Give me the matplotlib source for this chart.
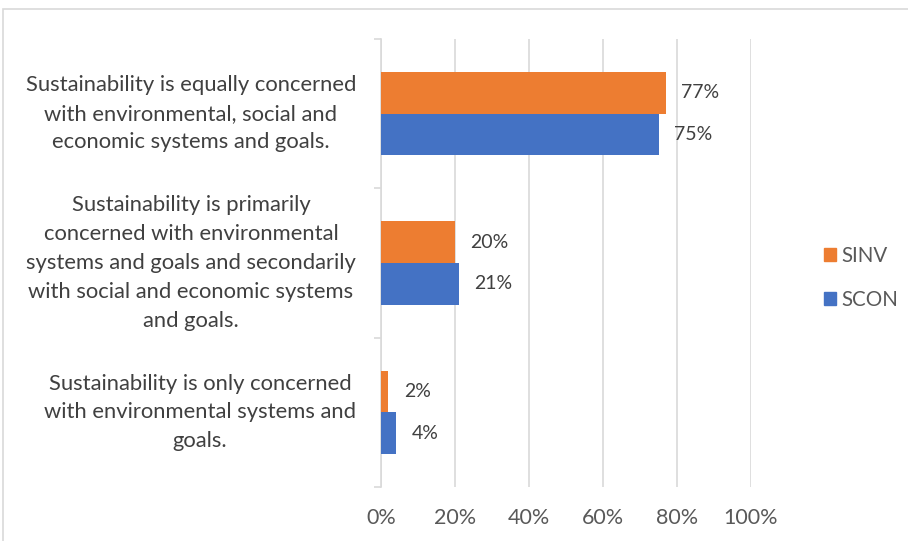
import matplotlib.pyplot as plt
import matplotlib.patches as mpatches
import numpy as np

categories = [
    "Sustainability is only concerned\nwith environmental systems and\ngoals.",
    "Sustainability is primarily\nconcerned with environmental\nsystems and goals and secondarily\nwith social and economic systems\nand goals.",
    "Sustainability is equally concerned\nwith environmental, social and\neconomic systems and goals.",
]
sinv = [2, 20, 77]
scon = [4, 21, 75]
xticks = [0, 20, 40, 60, 80, 100]

ORANGE = "#ED7D31"
BLUE = "#4472C4"
GRID = "#D9D9D9"
TEXT = "#404040"
TICK_TEXT = "#595959"

plt.rcParams["font.family"] = ["Lato", "DejaVu Sans"]

fig = plt.figure(figsize=(9.08, 5.41), dpi=100)
W, H = 908, 541

# outer chart border (only the left and top edges fall inside the image)
fig.patches.append(mpatches.Rectangle((3 / W, -0.1), 1.2, 1.1 - 9 / H, transform=fig.transFigure,
                                      fill=False, edgecolor=GRID, linewidth=1.2))

ax = fig.add_axes([381 / W, 1 - 487 / H, 370 / W, 448 / H])

y = np.arange(len(categories))
h = 0.28
ax.barh(y + h / 2, sinv, height=h, color=ORANGE, label="SINV", zorder=3)
ax.barh(y - h / 2, scon, height=h, color=BLUE, label="SCON", zorder=3)

for yi, v in zip(y, sinv):
    ax.text(v + 4.2, yi + h / 2, f"{v}%", va="center", ha="left", fontsize=14, color=TEXT)
for yi, v in zip(y, scon):
    ax.text(v + 4.2, yi - h / 2, f"{v}%", va="center", ha="left", fontsize=14, color=TEXT)

ax.set_xlim(0, 100)
ax.set_ylim(-0.5, 2.5)
ax.set_xticks(xticks)
ax.set_xticklabels([f"{t}%" for t in xticks], fontsize=15.5, color=TICK_TEXT)
ax.tick_params(axis="x", length=0, pad=15)
ax.xaxis.grid(True, color=GRID, linewidth=1.2, zorder=0)

ax.set_yticks(y)
ax.set_yticklabels(categories, fontsize=15.8, color=TEXT, multialignment="center",
                   linespacing=1.55, va="center")
ax.tick_params(axis="y", which="major", length=0, pad=18)
ax.set_yticks([-0.5, 0.5, 1.5, 2.5], minor=True)
ax.tick_params(axis="y", which="minor", length=5, color=GRID, width=1.2)

for side in ["top", "right", "bottom"]:
    ax.spines[side].set_visible(False)
ax.spines["left"].set_color(GRID)
ax.spines["left"].set_linewidth(1.2)

handles = [mpatches.Patch(color=ORANGE), mpatches.Patch(color=BLUE)]
fig.legend(handles, ["SINV", "SCON"], loc="center left", bbox_to_anchor=(805 / W, 1 - 278 / H),
           frameon=False, fontsize=14.8, labelcolor=TICK_TEXT, handlelength=0.6, handleheight=0.6,
           handletextpad=0.25, labelspacing=1.15)

fig.savefig("out.png", dpi=100)
